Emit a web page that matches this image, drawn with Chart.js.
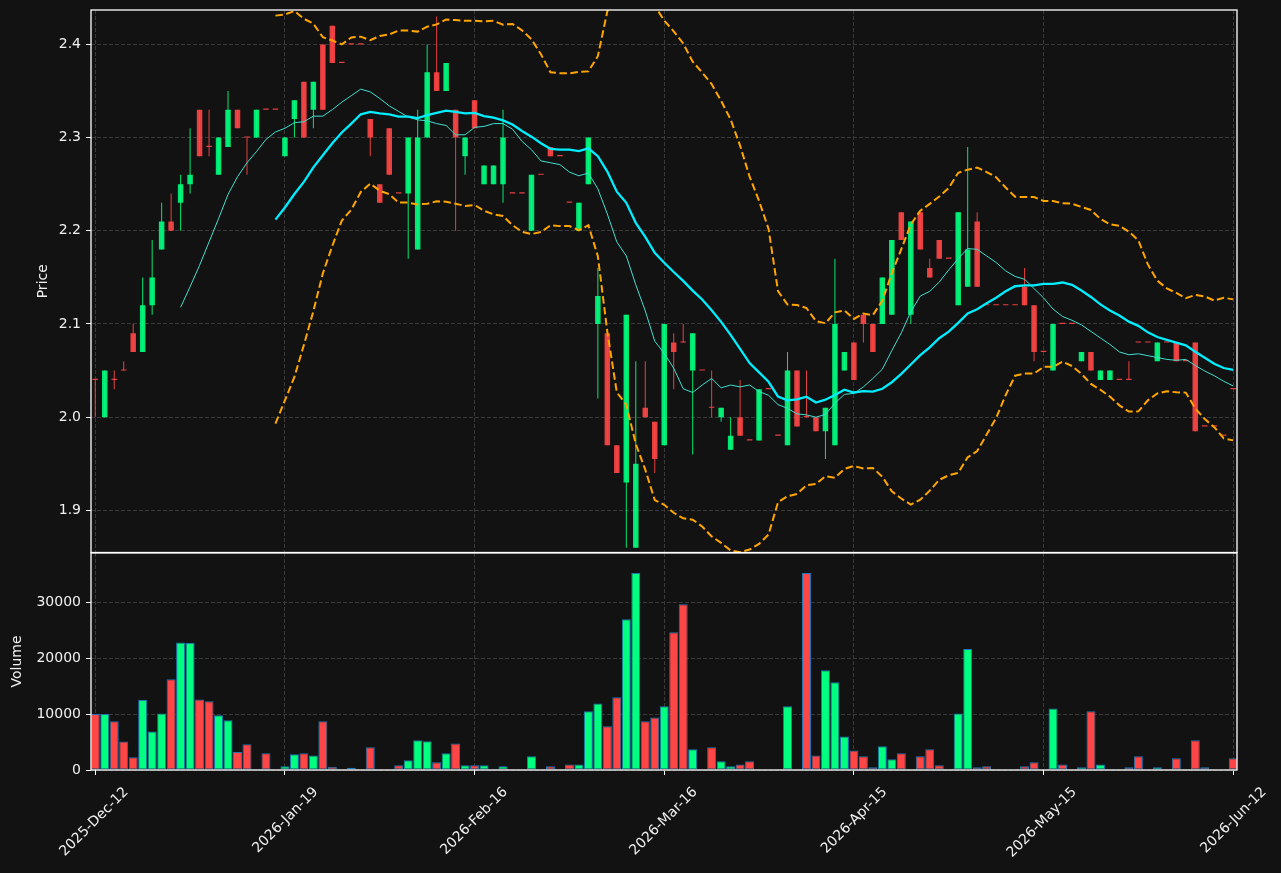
<!DOCTYPE html>
<html lang="en">
<head>
  <meta charset="utf-8">
  <title>Price / Volume</title>
  <script src="https://cdn.jsdelivr.net/npm/chart.js@4.4.1/dist/chart.umd.min.js"></script>
  <style>
    html, body { margin: 0; padding: 0; background: #121212; overflow: hidden; }
    #price { position: absolute; left: 0; top: 0; }
    #volume { position: absolute; left: 0; top: 552px; }
  </style>
</head>
<body>
  <canvas id="price" width="1281" height="553"></canvas>
  <canvas id="volume" width="1281" height="321"></canvas>
<script>
// one candle per trading day, index 0 = 2025-Dec-12, index 120 = 2026-Jun-12
var opens = [
  2.04, 2.00, 2.04, 2.05, 2.09, 2.07, 2.12, 2.18, 2.21, 2.23,
  2.25, 2.33, 2.29, 2.26, 2.29, 2.33, 2.30, 2.30, 2.33, 2.33,
  2.28, 2.32, 2.36, 2.33, 2.40, 2.42, 2.38, 2.40, 2.40, 2.32,
  2.25, 2.31, 2.24, 2.24, 2.18, 2.30, 2.37, 2.35, 2.33, 2.28,
  2.34, 2.25, 2.25, 2.25, 2.24, 2.24, 2.20, 2.26, 2.29, 2.28,
  2.23, 2.20, 2.25, 2.10, 2.09, 1.97, 1.93, 1.86, 2.01, 1.995,
  1.97, 2.08, 2.08, 2.05, 2.05, 2.01, 2.00, 1.965, 2.00, 1.975,
  1.975, 2.03, 1.98, 1.97, 2.05, 2.00, 2.00, 1.985, 1.97, 2.05,
  2.08, 2.11, 2.10, 2.10, 2.11, 2.22, 2.11, 2.22, 2.16, 2.19,
  2.17, 2.12, 2.14, 2.21, 2.12, 2.12, 2.12, 2.12, 2.14, 2.12,
  2.07, 2.05, 2.10, 2.10, 2.06, 2.07, 2.04, 2.04, 2.04, 2.04,
  2.08, 2.08, 2.06, 2.08, 2.08, 2.06, 2.08, 1.99, 1.99, 1.98,
  2.03
];
var highs = [
  2.04, 2.05, 2.05, 2.06, 2.10, 2.15, 2.19, 2.23, 2.24, 2.26,
  2.31, 2.33, 2.33, 2.30, 2.35, 2.33, 2.30, 2.33, 2.33, 2.33,
  2.30, 2.34, 2.36, 2.36, 2.40, 2.42, 2.38, 2.40, 2.40, 2.32,
  2.25, 2.31, 2.24, 2.30, 2.33, 2.40, 2.43, 2.38, 2.33, 2.30,
  2.34, 2.27, 2.27, 2.33, 2.24, 2.24, 2.26, 2.26, 2.29, 2.28,
  2.23, 2.23, 2.30, 2.16, 2.09, 1.97, 2.11, 2.06, 2.06, 1.995,
  2.10, 2.09, 2.10, 2.09, 2.05, 2.05, 2.01, 2.00, 2.04, 1.975,
  2.03, 2.03, 1.98, 2.07, 2.05, 2.05, 2.00, 2.01, 2.17, 2.07,
  2.08, 2.11, 2.10, 2.15, 2.19, 2.22, 2.21, 2.22, 2.17, 2.19,
  2.17, 2.22, 2.29, 2.22, 2.12, 2.12, 2.12, 2.12, 2.16, 2.12,
  2.07, 2.10, 2.10, 2.10, 2.07, 2.07, 2.05, 2.05, 2.04, 2.06,
  2.08, 2.08, 2.08, 2.08, 2.08, 2.06, 2.08, 1.99, 1.99, 1.98,
  2.03
];
var lows = [
  2.00, 2.00, 2.03, 2.05, 2.07, 2.07, 2.11, 2.18, 2.20, 2.20,
  2.24, 2.28, 2.28, 2.26, 2.29, 2.31, 2.26, 2.30, 2.33, 2.33,
  2.28, 2.30, 2.30, 2.31, 2.33, 2.38, 2.38, 2.40, 2.40, 2.28,
  2.23, 2.26, 2.24, 2.17, 2.18, 2.30, 2.35, 2.35, 2.20, 2.26,
  2.31, 2.25, 2.25, 2.23, 2.24, 2.24, 2.20, 2.26, 2.28, 2.28,
  2.23, 2.20, 2.25, 2.02, 1.97, 1.94, 1.86, 1.86, 2.00, 1.94,
  1.97, 2.03, 2.08, 1.96, 2.05, 2.00, 1.995, 1.965, 1.98, 1.975,
  1.975, 2.03, 1.98, 1.97, 1.99, 2.00, 1.985, 1.955, 1.97, 2.05,
  2.04, 2.08, 2.07, 2.10, 2.11, 2.19, 2.10, 2.18, 2.15, 2.17,
  2.17, 2.12, 2.14, 2.14, 2.12, 2.12, 2.12, 2.12, 2.12, 2.06,
  2.07, 2.05, 2.10, 2.10, 2.06, 2.05, 2.04, 2.04, 2.04, 2.04,
  2.08, 2.08, 2.06, 2.08, 2.06, 2.06, 1.985, 1.99, 1.99, 1.98,
  2.03
];
var closes = [
  2.04, 2.05, 2.04, 2.05, 2.07, 2.12, 2.15, 2.21, 2.20, 2.25,
  2.26, 2.28, 2.29, 2.30, 2.33, 2.31, 2.30, 2.33, 2.33, 2.33,
  2.30, 2.34, 2.30, 2.36, 2.33, 2.38, 2.38, 2.40, 2.40, 2.30,
  2.23, 2.26, 2.24, 2.30, 2.30, 2.37, 2.35, 2.38, 2.30, 2.30,
  2.31, 2.27, 2.27, 2.30, 2.24, 2.24, 2.26, 2.26, 2.28, 2.28,
  2.23, 2.23, 2.30, 2.13, 1.97, 1.94, 2.11, 1.95, 2.00, 1.955,
  2.10, 2.07, 2.08, 2.09, 2.05, 2.01, 2.01, 1.98, 1.98, 1.975,
  2.03, 2.03, 1.98, 2.05, 1.99, 2.00, 1.985, 2.01, 2.10, 2.07,
  2.04, 2.10, 2.07, 2.15, 2.19, 2.19, 2.21, 2.18, 2.15, 2.17,
  2.17, 2.22, 2.18, 2.14, 2.12, 2.12, 2.12, 2.12, 2.12, 2.07,
  2.07, 2.10, 2.10, 2.10, 2.07, 2.05, 2.05, 2.05, 2.04, 2.04,
  2.08, 2.08, 2.08, 2.08, 2.06, 2.06, 1.985, 1.99, 1.99, 1.98,
  2.03
];
var volumes = [
  10000, 10000, 8700, 5100, 2300, 12500, 6900, 10100, 16200, 22800,
  22700, 12600, 12300, 9800, 8900, 3200, 4600, 150, 3000, 0,
  650, 2800, 3000, 2600, 8700, 600, 100, 400, 0, 4050,
  120, 120, 850, 1750, 5300, 5150, 1400, 3000, 4750, 850,
  850, 850, 120, 650, 100, 0, 2450, 0, 650, 0,
  1000, 1000, 10500, 11900, 7800, 13000, 26950, 35200, 8700, 9400,
  11400, 24600, 29600, 3700, 0, 4050, 1550, 650, 1000, 1550,
  120, 0, 0, 11400, 100, 35200, 2600, 17800, 15700, 6000,
  3500, 2450, 480, 4250, 1900, 3000, 100, 2450, 3700, 850,
  0, 10100, 21600, 480, 650, 100, 0, 0, 650, 1370,
  0, 11000, 1000, 0, 480, 10500, 1000, 100, 0, 480,
  2450, 100, 480, 0, 2100, 100, 5300, 480, 0, 0,
  2100
];

var tickPos = [0, 20, 40, 60, 80, 100, 120];
var tickLabels = ['2025-Dec-12', '2026-Jan-19', '2026-Feb-16', '2026-Mar-16', '2026-Apr-15', '2026-May-15', '2026-Jun-12'];
var priceTicks = [1.9, 2.0, 2.1, 2.2, 2.3, 2.4];
var volumeTicks = [0, 10000, 20000, 30000];

// moving averages and bollinger bands derived from the closes
function rolling(src, n, fn) {
  return src.map(function (_, i) { return i < n - 1 ? null : fn(src.slice(i - n + 1, i + 1)); });
}
function mean(a) { return a.reduce(function (s, v) { return s + v; }, 0) / a.length; }
function sd(a) { var m = mean(a); return Math.sqrt(mean(a.map(function (v) { return (v - m) * (v - m); }))); }
var ma10 = rolling(closes, 10, mean);
var ma20 = rolling(closes, 20, mean);
var bbUpper = rolling(closes, 20, function (a) { return mean(a) + 2 * sd(a); });
var bbLower = rolling(closes, 20, function (a) { return mean(a) - 2 * sd(a); });

function pts(arr) { return arr.map(function (v, i) { return { x: i, y: v }; }); }

var isUp = closes.map(function (c, i) { return c > opens[i]; });
var candleCol = isUp.map(function (u) { return u ? 'rgba(0,255,128,0.9)' : 'rgba(255,70,70,0.9)'; });
var volCol = isUp.map(function (u) { return u ? '#00ff80' : '#ff4646'; });

var font = { family: 'DejaVu Sans', size: 14 };
var txt = '#f0f0f0';
var gridCol = '#3a3a3a';

// white frame round each panel
var frame = {
  id: 'frame',
  afterDraw: function (chart) {
    var a = chart.chartArea, ctx = chart.ctx;
    ctx.save();
    ctx.strokeStyle = '#ffffff';
    ctx.lineWidth = 1.3;
    ctx.strokeRect(a.left, a.top, a.right - a.left, a.bottom - a.top);
    ctx.restore();
  }
};

// no extra room for half tick labels at the axis ends
function noPad(s) { s.paddingTop = 0; s.paddingBottom = 0; s.paddingLeft = 0; s.paddingRight = 0; }

function xScale(showLabels) {
  return {
    type: 'linear',
    min: -0.45,
    max: 120.4,
    offset: false,
    afterBuildTicks: function (s) { s.ticks = tickPos.map(function (v) { return { value: v }; }); },
    afterFit: function (s) { s.height = showLabels ? 103 : 0; noPad(s); },
    grid: { color: gridCol, lineWidth: 1, offset: false, drawTicks: showLabels, tickLength: 5, tickColor: '#ffffff', tickBorderDash: [] },
    border: { display: false, dash: [4, 2] },
    ticks: {
      display: showLabels,
      autoSkip: false,
      minRotation: 45,
      maxRotation: 45,
      labelOffset: 31,
      padding: 9,
      color: txt,
      font: font,
      callback: function (v) { var k = tickPos.indexOf(v); return k < 0 ? '' : tickLabels[k]; }
    }
  };
}

new Chart(document.getElementById('price'), {
  type: 'bar',
  data: {
    datasets: [
      { type: 'line', data: pts(ma20), borderColor: '#00eeff', borderWidth: 2.3, pointRadius: 0, order: 0 },
      { type: 'line', data: pts(ma10), borderColor: '#40e0d0', borderWidth: 1, pointRadius: 0, order: 1 },
      { type: 'line', data: pts(bbUpper), borderColor: '#ffa500', borderWidth: 2, borderDash: [7.5, 3.5], pointRadius: 0, order: 1 },
      { type: 'line', data: pts(bbLower), borderColor: '#ffa500', borderWidth: 2, borderDash: [7.5, 3.5], pointRadius: 0, order: 1 },
      {
        data: opens.map(function (o, i) { return { x: i, y: [o, closes[i]] }; }),
        backgroundColor: candleCol, grouped: false, categoryPercentage: 1, barPercentage: 0.58,
        minBarLength: 1.2, order: 2
      },
      {
        data: lows.map(function (l, i) { return { x: i, y: [l, highs[i]] }; }),
        backgroundColor: candleCol, grouped: false, maxBarThickness: 1, order: 3
      }
    ]
  },
  options: {
    responsive: false,
    animation: false,
    layout: { padding: { left: 0, right: 44, top: 10, bottom: 0.5 } },
    plugins: { legend: { display: false }, tooltip: { enabled: false } },
    scales: {
      x: xScale(false),
      y: {
        min: 1.8548,
        max: 2.4369,
        afterBuildTicks: function (s) { s.ticks = priceTicks.map(function (v) { return { value: v }; }); },
        afterFit: function (s) { s.width = 91; noPad(s); },
        grid: { color: gridCol, lineWidth: 1, tickLength: 5, tickColor: '#ffffff', tickBorderDash: [] },
        border: { display: false, dash: [4, 2] },
        ticks: { color: txt, font: font, padding: 5, callback: function (v) { return v.toFixed(1); } },
        title: { display: true, text: 'Price', color: txt, font: font, padding: { top: 34.6, bottom: 0 } }
      }
    }
  },
  plugins: [frame]
});

new Chart(document.getElementById('volume'), {
  type: 'bar',
  data: {
    datasets: [{
      data: volumes.map(function (v, i) { return { x: i, y: v }; }),
      backgroundColor: volCol,
      borderColor: '#1f77b4',
      borderWidth: 1,
      borderSkipped: false,
      categoryPercentage: 1,
      barPercentage: 0.95
    }]
  },
  options: {
    responsive: false,
    animation: false,
    layout: { padding: { left: 0, right: 44, top: 1, bottom: 0 } },
    plugins: { legend: { display: false }, tooltip: { enabled: false } },
    scales: {
      x: xScale(true),
      y: {
        min: 0,
        max: 38770,
        afterBuildTicks: function (s) { s.ticks = volumeTicks.map(function (v) { return { value: v }; }); },
        afterFit: function (s) { s.width = 91; noPad(s); },
        grid: { color: gridCol, lineWidth: 1, tickLength: 5, tickColor: '#ffffff', tickBorderDash: [] },
        border: { display: false, dash: [4, 2] },
        ticks: { color: txt, font: font, padding: 5, callback: function (v) { return String(v); } },
        title: { display: true, text: 'Volume', color: txt, font: font, padding: { top: 8.6, bottom: 0 } }
      }
    }
  },
  plugins: [frame]
});
</script>
</body>
</html>
